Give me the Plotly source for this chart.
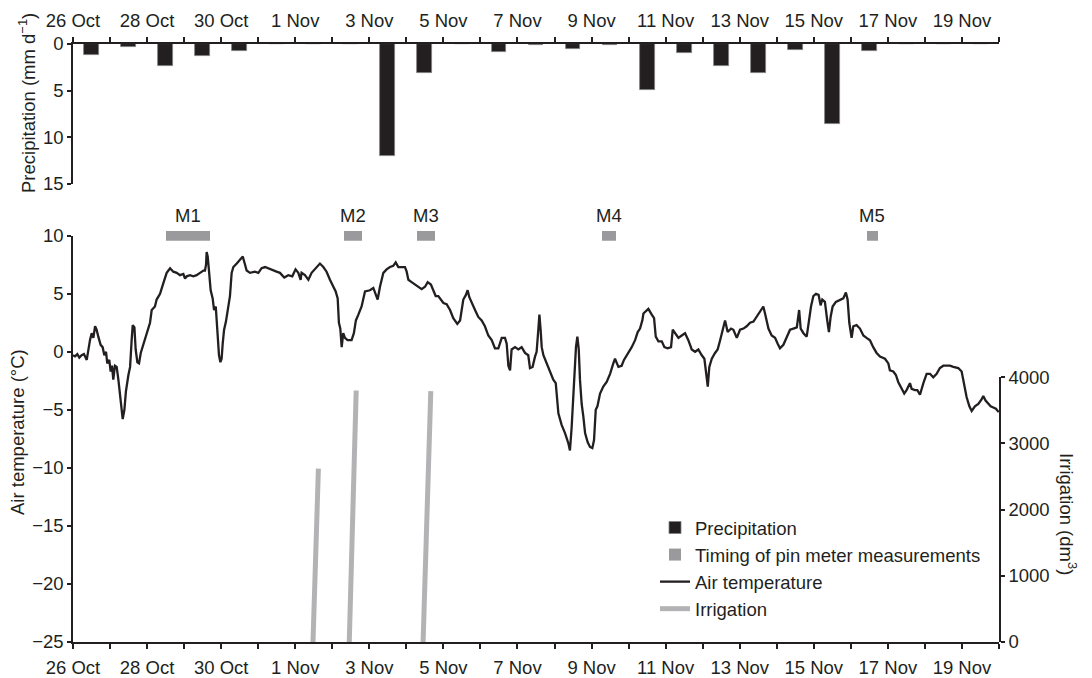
import pandas as pd
import plotly.graph_objects as go

# ---------------- data ----------------
START = "2011-10-26"
END = "2011-11-20"

precip_dates = ["2011-10-26", "2011-10-27", "2011-10-28", "2011-10-29", "2011-10-30",
                "2011-10-31", "2011-11-01", "2011-11-02", "2011-11-03", "2011-11-04",
                "2011-11-05", "2011-11-06", "2011-11-07", "2011-11-08", "2011-11-09",
                "2011-11-10", "2011-11-11", "2011-11-12", "2011-11-13", "2011-11-14",
                "2011-11-15", "2011-11-16", "2011-11-17", "2011-11-18", "2011-11-19"]
precip_mm = [1.2, 0.3, 2.4, 1.3, 0.7, 0, 0, 0, 12.0, 3.1, 0, 0.9, 0.1, 0.5, 0.1,
             4.9, 1.0, 2.4, 3.1, 0.6, 8.6, 0.8, 0, 0, 0]

meas_labels = ["M1", "M2", "M3", "M4", "M5"]
meas_start = ["2011-10-28 12:00", "2011-11-02 07:30", "2011-11-04 06:45",
              "2011-11-09 07:00", "2011-11-16 10:30"]
meas_end = ["2011-10-29 16:30", "2011-11-02 19:00", "2011-11-04 18:15",
            "2011-11-09 16:00", "2011-11-16 17:30"]

irr_start = ["2011-11-01 11:30", "2011-11-02 11:00", "2011-11-04 10:50"]
irr_end = ["2011-11-01 15:00", "2011-11-02 15:30", "2011-11-04 15:50"]
irr_volume = [2620, 3800, 3790]

# hours since 26 Oct 00:00
temp_hours = [
    0, 1.3, 2.8, 4.1, 5.6, 7.1, 8.9, 9.9, 11.0, 12.1, 13.2, 14.3, 15.3, 16.4, 17.9, 19.2,
    20.3, 21.4, 22.2, 23.5, 24.4, 25.3, 26.1, 27.2, 28.3, 29.4, 30.5, 31.5, 32.2, 33.3,
    34.3, 35.9, 37.0, 38.0, 38.7, 39.8, 40.6, 41.7, 42.8, 43.9, 45.6, 47.7, 49.9, 51.0,
    53.1, 54.2, 56.4, 58.5, 60.7, 62.9, 65.0, 67.2, 69.3, 71.5, 72.6, 73.7, 75.8, 78.0,
    80.1, 82.3, 84.5, 85.5, 86.2, 86.6, 87.3, 88.1, 89.2, 90.5, 91.4, 92.5, 93.1, 93.8,
    94.6, 95.5, 96.3, 97.0, 97.9, 99.1, 100.7, 101.7, 102.8, 103.9, 106.1, 108.2, 110.0,
    111.5, 112.5, 114.7, 116.9, 117.9, 120.1, 122.2, 124.4, 127.6, 129.8, 131.9, 134.1,
    136.9, 139.5, 142.1, 144.2, 146.0, 147.5, 148.1, 150.3, 152.5, 154.6, 157.2, 160.0,
    162.2, 164.3, 166.5, 168.7, 170.2, 171.5, 171.9, 172.3, 173.2, 174.1, 175.1, 176.2,
    177.9, 180.5, 182.0, 183.3, 184.9, 187.0, 189.2, 192.4, 194.6, 196.1, 197.4, 198.9,
    201.1, 203.2, 205.4, 207.5, 209.1, 210.8, 212.9, 215.1, 216.2, 217.3, 219.4, 221.6,
    223.7, 225.9, 228.1, 229.8, 231.9, 233.5, 235.0, 236.7, 237.8, 240.0, 242.1, 244.3,
    246.4, 249.0, 250.8, 252.9, 254.6, 255.7, 256.8, 258.3, 260.5, 262.6, 264.8, 266.9,
    269.1, 271.3, 273.4, 275.6, 277.8, 279.9, 281.0, 282.1, 283.2, 284.2, 286.4, 288.6,
    290.7, 292.9, 295.0, 296.1, 297.8, 299.4, 300.4, 301.5, 302.2, 303.0, 303.7, 304.8,
    306.9, 309.1, 311.2, 312.8, 314.5, 316.6, 318.8, 321.0, 322.0, 323.1, 324.8, 325.9,
    326.8, 327.7, 328.5, 329.6, 330.7, 331.8, 333.5, 335.0, 336.5, 337.6, 338.7, 339.8,
    341.5, 343.6, 345.8, 348.0, 350.1, 351.2, 353.4, 355.5, 357.0, 359.9, 362.0, 364.2,
    365.9, 367.4, 368.9, 369.6, 371.1, 372.8, 375.0, 376.5, 377.6, 379.3, 381.5, 383.2,
    385.3, 387.5, 388.6, 390.1, 392.3, 394.4, 396.6, 398.7, 400.9, 403.1, 405.2, 407.4,
    409.1, 410.4, 411.3, 412.3, 413.9, 416.0, 417.7, 419.3, 420.8, 422.5, 424.2, 426.4,
    427.9, 430.1, 432.2, 434.4, 436.5, 438.7, 440.9, 443.0, 445.2, 447.3, 448.4, 450.6,
    452.7, 454.9, 456.6, 458.1, 460.3, 462.5, 464.6, 466.8, 469.0, 470.5, 471.5, 473.3,
    475.4, 476.9, 478.2, 479.7, 481.4, 483.1, 484.4, 485.5, 487.2, 488.7, 489.8, 490.9,
    492.2, 494.3, 496.9, 499.1, 500.8, 501.9, 503.0, 504.5, 505.6, 507.7, 509.9, 512.1,
    514.2, 516.4, 518.5, 520.7, 522.9, 526.1, 528.3, 529.3, 531.5, 533.2, 534.7, 536.9,
    538.6, 540.1, 541.2, 542.3, 543.4, 545.5, 547.1, 548.8, 551.0, 553.1, 555.3, 557.4,
    559.6, 561.7, 563.9, 566.1, 568.2, 570.4, 573.6, 575.8, 577.3, 579.0, 580.8, 582.3,
    584.4, 586.6, 588.7, 589.8, 591.3, 593.1, 594.6, 596.3, 598.0, 599.8]
temp_c = [
    -0.3, -0.4, -0.2, -0.5, -0.3, -0.2, -0.7, 0.2, 1.0, 1.6, 1.2, 2.2, 1.9, 1.3, 0.6, 0.4,
    -0.3, 0.0, -1.0, -0.7, -1.7, -1.2, -2.4, -1.2, -1.3, -2.4, -3.6, -4.7, -5.8, -5.0,
    -3.4, -2.0, -1.3, 1.0, 2.3, 2.1, 0.2, -0.9, -1.0, -0.1, 0.7, 1.6, 2.5, 3.6,
    3.9, 4.5, 5.0, 5.9, 6.8, 7.2, 6.9, 6.8, 6.6, 6.7, 6.3, 6.5, 6.6, 6.5,
    6.6, 6.8, 7.0, 7.0, 7.5, 8.6, 8.2, 7.0, 5.3, 4.6, 3.6, 3.9, 2.7, 1.0,
    -0.3, -0.9, -0.6, 0.7, 1.9, 2.6, 3.9, 4.8, 6.8, 7.3, 7.6, 7.9, 8.2,
    7.5, 7.0, 6.8, 6.9, 6.9, 6.8, 7.2, 7.3, 7.1, 7.0, 6.9, 6.8,
    6.4, 6.6, 6.5, 7.1, 6.8, 6.2, 6.8, 6.6, 6.2, 6.8, 7.2, 7.6,
    7.3, 6.9, 6.2, 5.6, 5.2, 4.6, 3.6, 2.5, 2.0, 0.4, 1.6, 1.2,
    1.0, 1.0, 1.6, 2.7, 3.2, 3.9, 5.2, 5.3, 5.5, 4.9, 4.5, 5.6,
    6.8, 7.1, 7.3, 7.4, 7.7, 7.3, 7.3, 7.3, 6.9, 6.2, 6.0, 5.8,
    5.6, 5.4, 5.6, 6.0, 5.8, 5.3, 4.8, 4.8, 4.6, 4.2, 4.1, 3.6,
    2.9, 2.4, 2.7, 4.5, 4.9, 5.3, 4.7, 4.3, 3.6, 3.0, 2.7, 2.2,
    1.4, 1.0, 0.3, 0.3, 1.2, 1.2, 0.7, -1.2, -1.6, 0.2, 0.4, 0.2,
    0.4, -0.1, -0.3, -1.4, -1.3, -0.4, 0.0, 1.9, 3.2, 1.9, 0.4, -0.3,
    -1.0, -1.6, -2.4, -2.7, -5.3, -6.3, -7.0, -7.9, -8.5, -6.5, -1.9, 0.4,
    1.3, 0.2, -2.4, -4.5, -5.6, -7.0, -7.8, -8.2, -8.3, -7.6, -5.0, -4.7,
    -3.6, -3.0, -2.6, -1.9, -1.0, -0.6, -1.3, -1.2, -0.7, -0.1, 0.4, 1.0,
    1.7, 2.0, 2.7, 3.3, 3.5, 3.7, 3.2, 2.9, 1.3, 0.9, 0.9, 0.4,
    0.3, 0.4, 1.9, 1.6, 1.2, 1.4, 1.6, 1.0, 0.2, 0.0, 0.2, -0.3,
    -0.6, -2.0, -3.0, -1.3, -0.6, -0.1, 0.2, 1.0, 1.9, 2.7, 1.7, 2.0,
    1.9, 1.2, 1.9, 2.0, 2.2, 2.5, 2.6, 3.0, 3.5, 3.9, 3.3, 2.0,
    1.4, 1.2, 0.7, 0.3, 0.6, 1.3, 1.9, 2.0, 2.1, 3.6, 2.0, 1.6,
    1.3, 2.7, 3.9, 4.8, 5.0, 4.9, 4.0, 4.5, 4.3, 2.7, 1.7, 3.0,
    3.9, 4.3, 4.5, 4.6, 5.1, 4.5, 2.5, 1.2, 2.2, 2.3, 2.0, 1.4,
    1.2, 1.0, 0.4, -0.1, -0.4, -0.6, -1.0, -1.6, -1.7, -2.0, -2.6, -3.2,
    -3.6, -3.3, -3.0, -2.7, -3.2, -3.3, -3.3, -3.7, -2.7, -1.9, -1.9, -2.2,
    -1.9, -1.4, -1.2, -1.2, -1.2, -1.3, -1.4, -1.7, -2.7, -3.9, -4.7, -5.1,
    -4.7, -4.5, -4.1, -3.8, -4.2, -4.5, -4.7, -4.8, -4.9, -5.2]

x_tick_step_days = 2
prec_ticks = [0, 5, 10, 15]

# ---------------- styling ----------------
INK = "#231f20"
GREY_M = "#9a9a9c"
GREY_IRR = "#b3b3b5"
FONT = "Liberation Sans, Arial, Helvetica, sans-serif"
FS = 18.5
DAY_MS = 86400000

t0 = pd.Timestamp(START)
temp_time = t0 + pd.to_timedelta(temp_hours, unit="h")

ms = pd.to_datetime(meas_start)
me = pd.to_datetime(meas_end)
meas_mid = ms + (me - ms) / 2
meas_width_ms = [(e - s).total_seconds() * 1000 for s, e in zip(ms, me)]

irr_x, irr_y = [], []
for s, e, v in zip(irr_start, irr_end, irr_volume):
    irr_x += [s, e, None]
    irr_y += [0, v, None]

fig = go.Figure()

fig.add_trace(go.Bar(
    x=precip_dates, y=precip_mm, xperiod=DAY_MS, xperiodalignment="middle",
    width=0.4 * DAY_MS, name="Precipitation",
    marker=dict(color=INK, line=dict(color="#808080", width=0.8)),
    xaxis="x", yaxis="y"))

fig.add_trace(go.Bar(
    x=meas_mid, y=[1] * len(meas_labels), base=0, width=meas_width_ms,
    name="Timing of pin meter measurements",
    marker=dict(color=GREY_M, line=dict(width=0)),
    xaxis="x2", yaxis="y4"))

fig.add_trace(go.Scatter(
    x=temp_time, y=temp_c, mode="lines", name="Air temperature",
    line=dict(color=INK, width=2.3), xaxis="x2", yaxis="y2"))

fig.add_trace(go.Scatter(
    x=irr_x, y=irr_y, mode="lines", name="Irrigation", connectgaps=False,
    line=dict(color=GREY_IRR, width=5), xaxis="x2", yaxis="y3"))

# The page body adds an 8 px offset; the figure is sized so that the plot
# area lands on page pixels x 73..999, y 44..642.
OFF = 8
PAGE_W, PAGE_H = 1092, 678
X0, X1, Y0, Y1 = 73, 999, 44, 642
W, H = PAGE_W - OFF, PAGE_H - OFF
L, T = X0 - OFF, Y0 - OFF
R, B = PAGE_W - X1, PAGE_H - Y1
PH = Y1 - Y0
PW = X1 - X0


def fy(px):
    return (Y1 - px) / PH


def fx(px):
    return (px - X0) / PW


common_x = dict(
    type="date", range=[START, END], tickformat="%-d %b",
    tick0=START, dtick=x_tick_step_days * DAY_MS,
    ticks="outside", ticklen=5, tickwidth=1.5, tickcolor=INK,
    minor=dict(dtick=DAY_MS, ticks="outside", ticklen=5, tickwidth=1.5, tickcolor=INK),
    showline=True, linecolor=INK, linewidth=1.5, showgrid=False, zeroline=False,
    tickfont=dict(size=FS, color=INK), domain=[0, 1], automargin=False)

common_y = dict(
    ticks="outside", ticklen=4, tickwidth=1.5, tickcolor=INK,
    showline=True, linecolor=INK, linewidth=1.5, showgrid=False, zeroline=False,
    tickfont=dict(size=FS, color=INK), automargin=False)

fig.update_layout(
    template="none",
    width=W, height=H, autosize=False,
    margin=dict(l=L, r=R, t=T, b=B, pad=0),
    paper_bgcolor="white", plot_bgcolor="rgba(0,0,0,0)",
    font=dict(family=FONT, size=FS, color=INK),
    bargap=0,
    xaxis=dict(common_x, anchor="y", side="top", ticklabelstandoff=3),
    xaxis2=dict(common_x, anchor="y2", side="bottom", matches="x", ticklabelstandoff=3),
    yaxis=dict(common_y, domain=[fy(184), 1], range=[15, 0], tickvals=prec_ticks,
               anchor="x"),
    yaxis2=dict(common_y, domain=[0, fy(235.7)], range=[-25, 10], dtick=5,
                anchor="x2"),
    yaxis3=dict(common_y, domain=[0, fy(377.3)], range=[0, 4000], dtick=1000,
                anchor="x2", side="right"),
    yaxis4=dict(domain=[fy(240.7), fy(230.7)], range=[0, 1], anchor="x2",
                visible=False, fixedrange=True),
    showlegend=True,
    legend=dict(x=fx(655), y=fy(509), xanchor="left", yanchor="top",
                bgcolor="rgba(0,0,0,0)", font=dict(size=FS, color=INK),
                traceorder="normal", itemwidth=30, tracegroupgap=0),
)

annotations = []
for lab, mid in zip(meas_labels, meas_mid):
    annotations.append(dict(x=mid, y=fy(215), xref="x2", yref="paper", text=lab,
                            showarrow=False, font=dict(size=FS, color=INK),
                            xanchor="center", yanchor="middle"))
annotations += [
    dict(x=fx(27), y=fy(103), xref="paper", yref="paper",
         text="Precipitation (mm d<sup>−1</sup>)", textangle=-90, showarrow=False,
         font=dict(size=FS, color=INK), xanchor="center", yanchor="middle"),
    dict(x=fx(17), y=fy(432), xref="paper", yref="paper",
         text="Air temperature (°C)", textangle=-90, showarrow=False,
         font=dict(size=FS, color=INK), xanchor="center", yanchor="middle"),
    dict(x=fx(1068), y=fy(514), xref="paper", yref="paper",
         text="Irrigation (dm<sup>3</sup>)", textangle=90, showarrow=False,
         font=dict(size=FS, color=INK), xanchor="center", yanchor="middle"),
]
fig.update_layout(annotations=annotations)

fig.write_html("out.html")
